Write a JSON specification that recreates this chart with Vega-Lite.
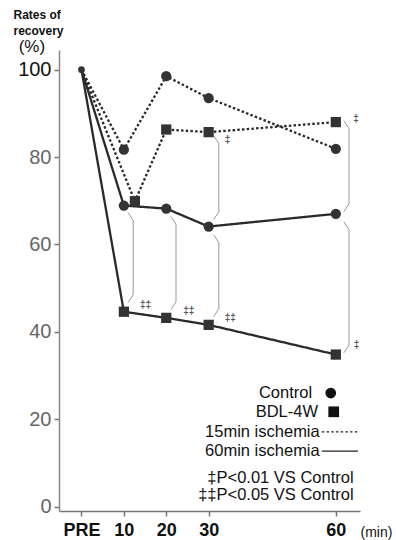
{
  "$schema": "https://vega.github.io/schema/vega-lite/v6.json",
  "width": 301,
  "height": 461,
  "autosize": {"type": "none"},
  "padding": {"left": 59, "top": 50, "right": 36, "bottom": 29},
  "background": "white",
  "config": {"view": {"stroke": null}, "font": "Liberation Sans"},
  "datasets": {
    "series": [
      {"x": 0, "y": 100, "s": "C15", "g": "Control", "i": "15"},
      {"x": 10, "y": 81.7, "s": "C15", "g": "Control", "i": "15"},
      {"x": 20, "y": 98.5, "s": "C15", "g": "Control", "i": "15"},
      {"x": 30, "y": 93.5, "s": "C15", "g": "Control", "i": "15"},
      {"x": 60, "y": 81.9, "s": "C15", "g": "Control", "i": "15"},
      {"x": 0, "y": 100, "s": "B15", "g": "BDL-4W", "i": "15"},
      {"x": 12.6, "y": 69.9, "s": "B15", "g": "BDL-4W", "i": "15"},
      {"x": 20, "y": 86.3, "s": "B15", "g": "BDL-4W", "i": "15"},
      {"x": 30, "y": 85.7, "s": "B15", "g": "BDL-4W", "i": "15"},
      {"x": 60, "y": 88.0, "s": "B15", "g": "BDL-4W", "i": "15"},
      {"x": 0, "y": 100, "s": "C60", "g": "Control", "i": "60"},
      {"x": 10, "y": 68.9, "s": "C60", "g": "Control", "i": "60"},
      {"x": 20, "y": 68.2, "s": "C60", "g": "Control", "i": "60"},
      {"x": 30, "y": 64.1, "s": "C60", "g": "Control", "i": "60"},
      {"x": 60, "y": 67.0, "s": "C60", "g": "Control", "i": "60"},
      {"x": 0, "y": 100, "s": "B60", "g": "BDL-4W", "i": "60"},
      {"x": 10, "y": 44.6, "s": "B60", "g": "BDL-4W", "i": "60"},
      {"x": 20, "y": 43.2, "s": "B60", "g": "BDL-4W", "i": "60"},
      {"x": 30, "y": 41.6, "s": "B60", "g": "BDL-4W", "i": "60"},
      {"x": 60, "y": 34.8, "s": "B60", "g": "BDL-4W", "i": "60"}
    ],
    "braces": [
      {"b": 1, "o": 1, "x": 11.0, "y": 67.3}, {"b": 1, "o": 2, "x": 12.2, "y": 65.5}, {"b": 1, "o": 3, "x": 12.2, "y": 48.5}, {"b": 1, "o": 4, "x": 11.0, "y": 46.7},
      {"b": 2, "o": 1, "x": 21.1, "y": 66.4}, {"b": 2, "o": 2, "x": 22.3, "y": 64.6}, {"b": 2, "o": 3, "x": 22.3, "y": 46.9}, {"b": 2, "o": 4, "x": 21.1, "y": 45.1},
      {"b": 3, "o": 1, "x": 31.2, "y": 62.2}, {"b": 3, "o": 2, "x": 32.4, "y": 60.4}, {"b": 3, "o": 3, "x": 32.4, "y": 45.3}, {"b": 3, "o": 4, "x": 31.2, "y": 43.5},
      {"b": 4, "o": 1, "x": 31.2, "y": 84.9}, {"b": 4, "o": 2, "x": 32.4, "y": 83.1}, {"b": 4, "o": 3, "x": 32.4, "y": 67.5}, {"b": 4, "o": 4, "x": 31.2, "y": 65.7},
      {"b": 5, "o": 1, "x": 61.9, "y": 88.3}, {"b": 5, "o": 2, "x": 63.1, "y": 86.5}, {"b": 5, "o": 3, "x": 63.1, "y": 69.3}, {"b": 5, "o": 4, "x": 61.9, "y": 67.5},
      {"b": 6, "o": 1, "x": 61.9, "y": 65.2}, {"b": 6, "o": 2, "x": 63.1, "y": 63.4}, {"b": 6, "o": 3, "x": 63.1, "y": 37.0}, {"b": 6, "o": 4, "x": 61.9, "y": 35.2}
    ],
    "sig": [
      {"x": 13.8, "y": 46.2, "text": "‡‡"},
      {"x": 24.0, "y": 44.7, "text": "‡‡"},
      {"x": 33.8, "y": 43.2, "text": "‡‡"},
      {"x": 33.8, "y": 84.0, "text": "‡"},
      {"x": 64.1, "y": 88.6, "text": "‡"},
      {"x": 64.2, "y": 37.1, "text": "‡"}
    ],
    "legendText": [
      {"x": 54.4, "y": 26.0, "text": "Control"},
      {"x": 55.8, "y": 21.7, "text": "BDL-4W"},
      {"x": 56.2, "y": 17.1, "text": "15min ischemia"},
      {"x": 56.2, "y": 12.7, "text": "60min ischemia"},
      {"x": 64.2, "y": 6.6, "text": "‡P<0.01 VS Control"},
      {"x": 64.2, "y": 2.7, "text": "‡‡P<0.05 VS Control"}
    ],
    "legendSym": [
      {"x": 58.8, "y": 26.0, "g": "Control"},
      {"x": 59.5, "y": 21.7, "g": "BDL-4W"}
    ],
    "legendLine": [
      {"x": 56.7, "y": 17.1, "i": "15"}, {"x": 65.2, "y": 17.1, "i": "15"},
      {"x": 56.7, "y": 12.7, "i": "60"}, {"x": 65.2, "y": 12.7, "i": "60"}
    ],
    "unit": [{"x": -11.7, "y": 105.2, "text": "(%)"}]
  },
  "encoding": {
    "x": {
      "field": "x", "type": "quantitative",
      "scale": {"domain": [-5.3, 65.7], "nice": false, "zero": false},
      "axis": {
        "values": [0, 10, 20, 30, 60],
        "labelExpr": "datum.value == 0 ? 'PRE' : datum.label",
        "labelFontSize": 18, "labelFontWeight": "bold", "labelColor": "#111",
        "labelPadding": 5, "tickSize": 5, "tickColor": "#777", "tickWidth": 1.5,
        "domainColor": "#777", "domainWidth": 1.5, "grid": false,
        "title": "(min)", "titleX": 301, "titleY": 21, "titleAlign": "left",
        "titleBaseline": "middle", "titleFontSize": 14, "titleFontWeight": "normal", "titleColor": "#111"
      }
    },
    "y": {
      "field": "y", "type": "quantitative",
      "scale": {"domain": [-1, 104.5], "nice": false, "zero": false},
      "axis": {
        "values": [0, 20, 40, 60, 80, 100],
        "labelFontSize": 20,
        "labelColor": {"condition": {"test": "datum.value == 100", "value": "#111"}, "value": "#666"},
        "labelPadding": 3, "tickSize": 5, "tickColor": "#777", "tickWidth": 1.5,
        "domainColor": "#888", "domainWidth": 1.5, "grid": false,
        "title": ["Rates of", "recovery"], "titleAngle": 0, "titleAlign": "left",
        "titleBaseline": "top", "titleX": -46, "titleY": -41, "titleFontSize": 12,
        "titleFontWeight": "bold", "titleLineHeight": 16, "titleColor": "#111"
      }
    }
  },
  "layer": [
    {
      "data": {"name": "braces"},
      "mark": {"type": "line", "color": "#999", "strokeWidth": 1},
      "encoding": {"detail": {"field": "b"}, "order": {"field": "o"}}
    },
    {
      "data": {"name": "series"},
      "mark": {"type": "line", "color": "#2a2a2a", "strokeWidth": 2.3},
      "encoding": {
        "detail": {"field": "s"},
        "strokeDash": {"field": "i", "type": "nominal", "scale": {"domain": ["15", "60"], "range": [[2.5, 2.2], [1, 0]]}, "legend": null},
        "strokeWidth": {"field": "i", "type": "nominal", "scale": {"domain": ["15", "60"], "range": [3.3, 2]}, "legend": null}
      }
    },
    {
      "data": {"name": "series"},
      "transform": [{"filter": "datum.x > 0"}],
      "mark": {"type": "point", "filled": true, "opacity": 1, "size": 105, "color": "#333"},
      "encoding": {
        "shape": {"field": "g", "type": "nominal", "scale": {"domain": ["Control", "BDL-4W"], "range": ["circle", "square"]}, "legend": null}
      }
    },
    {
      "data": {"name": "series"},
      "transform": [{"filter": "datum.x == 0 && datum.s == 'C15'"}],
      "mark": {"type": "point", "filled": true, "opacity": 1, "size": 45, "shape": "circle", "color": "#333"}
    },
    {
      "data": {"name": "sig"},
      "mark": {"type": "text", "align": "left", "baseline": "middle", "fontSize": 10, "color": "#555", "fontWeight": "bold"},
      "encoding": {"text": {"field": "text"}}
    },
    {
      "data": {"name": "legendText"},
      "mark": {"type": "text", "align": "right", "baseline": "middle", "fontSize": 16.5, "color": "#111"},
      "encoding": {"text": {"field": "text"}}
    },
    {
      "data": {"name": "legendSym"},
      "mark": {"type": "point", "filled": true, "opacity": 1, "size": 115, "color": "#111"},
      "encoding": {
        "shape": {"field": "g", "type": "nominal", "scale": {"domain": ["Control", "BDL-4W"], "range": ["circle", "square"]}, "legend": null}
      }
    },
    {
      "data": {"name": "legendLine"},
      "mark": {"type": "line", "color": "#222", "strokeWidth": 1.2},
      "encoding": {
        "detail": {"field": "i"},
        "strokeDash": {"field": "i", "type": "nominal", "scale": {"domain": ["15", "60"], "range": [[1.5, 1.5], [1, 0]]}, "legend": null}
      }
    },
    {
      "data": {"name": "unit"},
      "mark": {"type": "text", "align": "center", "baseline": "middle", "fontSize": 17, "color": "#111"},
      "encoding": {"text": {"field": "text"}}
    }
  ]
}
